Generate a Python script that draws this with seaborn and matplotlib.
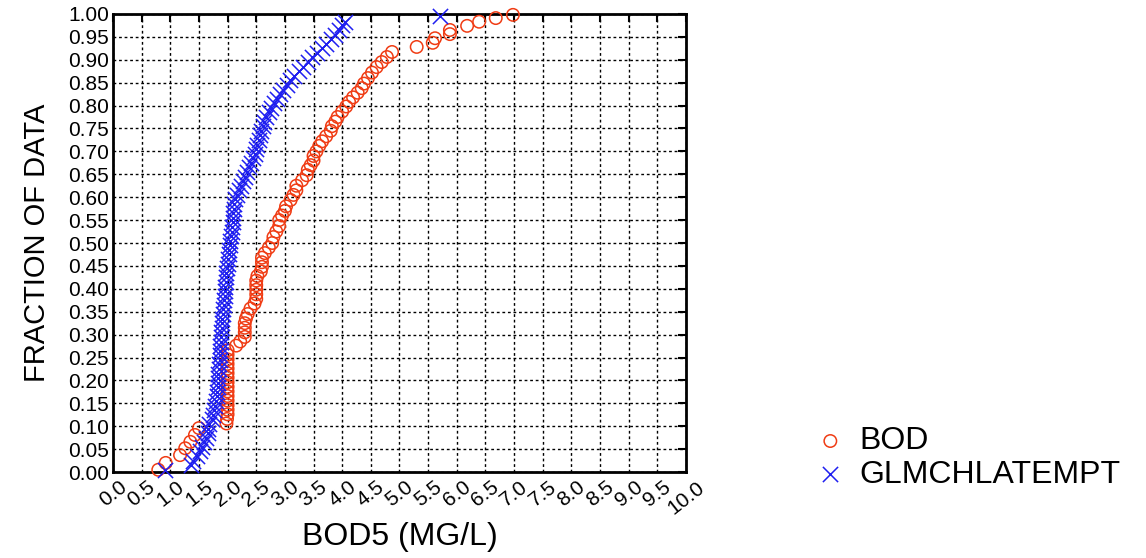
import numpy as np
import pandas as pd
import matplotlib
matplotlib.use("Agg")
import matplotlib.pyplot as plt
import seaborn as sns

# cumulative fraction plot
bod_val = [0.79, 0.92, 1.17, 1.26, 1.35, 1.43, 1.50,
           1.98, 1.99, 2.00, 2.00, 2.00, 2.00, 2.00, 2.00, 2.00, 2.00, 2.00, 2.00, 2.00, 2.00, 2.00, 2.00, 2.00,
           2.15, 2.22, 2.30, 2.30, 2.30, 2.30, 2.32, 2.35, 2.40, 2.47,
           2.50, 2.50, 2.50, 2.50, 2.50, 2.52, 2.58, 2.60, 2.60, 2.60,
           2.65, 2.72, 2.78, 2.80, 2.85, 2.90, 2.90, 2.95, 3.00, 3.02,
           3.10, 3.15, 3.20, 3.20, 3.30, 3.38, 3.40, 3.45, 3.50, 3.50,
           3.55, 3.60, 3.65, 3.72, 3.80, 3.82, 3.88, 3.92, 4.00, 4.07,
           4.12, 4.19, 4.27, 4.34, 4.38, 4.45, 4.52, 4.60, 4.69, 4.78,
           4.87, 5.30, 5.58, 5.62, 5.88, 5.88, 6.18, 6.39, 6.68, 6.98]
bod_frac = [0.005, 0.020, 0.037, 0.052, 0.066, 0.081, 0.096,
            0.106, 0.116, 0.126, 0.136, 0.146, 0.156, 0.166, 0.176, 0.186, 0.196, 0.206, 0.216, 0.226, 0.236, 0.246, 0.256, 0.266,
            0.276, 0.285, 0.295, 0.305, 0.315, 0.325, 0.335, 0.345, 0.357, 0.368,
            0.378, 0.388, 0.398, 0.408, 0.418, 0.428, 0.438, 0.448, 0.458, 0.468,
            0.478, 0.490, 0.500, 0.513, 0.525, 0.537, 0.550, 0.560, 0.570, 0.580,
            0.594, 0.605, 0.615, 0.625, 0.637, 0.648, 0.660, 0.670, 0.680, 0.690,
            0.700, 0.712, 0.722, 0.733, 0.745, 0.755, 0.765, 0.775, 0.787, 0.798,
            0.808, 0.818, 0.828, 0.838, 0.848, 0.860, 0.872, 0.884, 0.895, 0.906,
            0.917, 0.928, 0.937, 0.947, 0.956, 0.965, 0.974, 0.983, 0.991, 0.998]

glm_val = [0.90, 1.36, 1.40, 1.46, 1.52, 1.55, 1.58, 1.63, 1.65, 1.66,
           1.68, 1.72, 1.74, 1.76, 1.78, 1.80, 1.81, 1.82, 1.83, 1.83,
           1.84, 1.84, 1.85, 1.85, 1.86, 1.86, 1.87, 1.87, 1.88, 1.88,
           1.89, 1.90, 1.90, 1.91, 1.92, 1.92, 1.93, 1.94, 1.95, 1.96,
           1.96, 1.97, 1.98, 1.98, 1.99, 2.00, 2.01, 2.02, 2.03, 2.04,
           2.05, 2.06, 2.07, 2.08, 2.09, 2.09, 2.10, 2.11, 2.12, 2.13,
           2.16, 2.20, 2.23, 2.27, 2.31, 2.34, 2.38, 2.41, 2.44, 2.47,
           2.50, 2.52, 2.54, 2.56, 2.58, 2.61, 2.64, 2.67, 2.72, 2.76,
           2.81, 2.86, 2.91, 2.97, 3.03, 3.09, 3.16, 3.24, 3.32, 3.40,
           3.48, 3.56, 3.64, 3.72, 3.80, 3.88, 3.95, 4.00, 4.05, 5.71]
glm_frac = [0.005, 0.015, 0.025, 0.035, 0.045, 0.055, 0.065, 0.075, 0.085, 0.095,
            0.105, 0.115, 0.125, 0.135, 0.145, 0.155, 0.165, 0.175, 0.185, 0.195,
            0.205, 0.215, 0.225, 0.235, 0.245, 0.255, 0.265, 0.275, 0.285, 0.295,
            0.305, 0.315, 0.325, 0.335, 0.345, 0.355, 0.365, 0.375, 0.385, 0.395,
            0.405, 0.415, 0.425, 0.435, 0.445, 0.455, 0.465, 0.475, 0.485, 0.495,
            0.505, 0.515, 0.525, 0.535, 0.545, 0.555, 0.565, 0.575, 0.585, 0.595,
            0.605, 0.615, 0.625, 0.635, 0.645, 0.655, 0.665, 0.675, 0.685, 0.695,
            0.705, 0.715, 0.725, 0.735, 0.745, 0.755, 0.765, 0.775, 0.785, 0.795,
            0.805, 0.815, 0.825, 0.835, 0.845, 0.855, 0.865, 0.875, 0.885, 0.895,
            0.905, 0.915, 0.925, 0.935, 0.945, 0.955, 0.965, 0.975, 0.982, 0.995]

x_ticks = np.arange(0, 10.01, 0.5)
y_ticks = np.arange(0, 1.001, 0.05)

RED = "#f03c14"
BLUE = "#1f1ff0"

sns.set_style("white")
plt.rcParams["font.family"] = ["Liberation Sans", "DejaVu Sans"]
plt.rcParams["text.color"] = "black"
plt.rcParams["axes.labelcolor"] = "black"
plt.rcParams["xtick.color"] = "black"
plt.rcParams["ytick.color"] = "black"

fig, ax = plt.subplots(figsize=(11.46, 5.58), dpi=100)
fig.subplots_adjust(left=0.0986, right=0.5986, bottom=0.154, top=0.975)

sns.scatterplot(x=bod_val, y=bod_frac, ax=ax, marker="o", s=80,
                facecolor="none", edgecolor=RED, linewidth=1.1,
                label="BOD", clip_on=False, zorder=3)
sns.scatterplot(x=glm_val, y=glm_frac, ax=ax, marker="x", s=120,
                color=BLUE, linewidth=1.1,
                label="GLMCHLATEMPT", clip_on=False, zorder=3)

ax.set_xlim(0, 10)
ax.set_ylim(0, 1)
ax.set_xticks(x_ticks)
ax.set_xticklabels([f"{v:.1f}" for v in x_ticks], rotation=38, ha="center")
ax.set_yticks(y_ticks)
ax.set_yticklabels([f"{v:.2f}" for v in y_ticks])
ax.tick_params(direction="in", length=6, width=1.5, top=True, right=True,
               labelsize=15, pad=3)
ax.tick_params(axis="x", pad=4)
ax.grid(True, color="black", linestyle=(0, (2, 2)), linewidth=1)

for sp in ax.spines.values():
    sp.set_linewidth(2)
    sp.set_color("black")

ax.set_xlabel("BOD5 (MG/L)", fontsize=23, labelpad=3)
ax.set_ylabel("FRACTION OF DATA", fontsize=21, labelpad=12)

handles, labels = ax.get_legend_handles_labels()
if ax.get_legend() is not None:
    ax.get_legend().remove()
fig.legend(handles, labels, loc="center left",
           bbox_to_anchor=(792 / 1146, 1 - 458 / 558),
           frameon=False, fontsize=23, handletextpad=0.4,
           labelspacing=0.1, handlelength=1.0, borderpad=0.2)

fig.savefig("out.png", dpi=100)
